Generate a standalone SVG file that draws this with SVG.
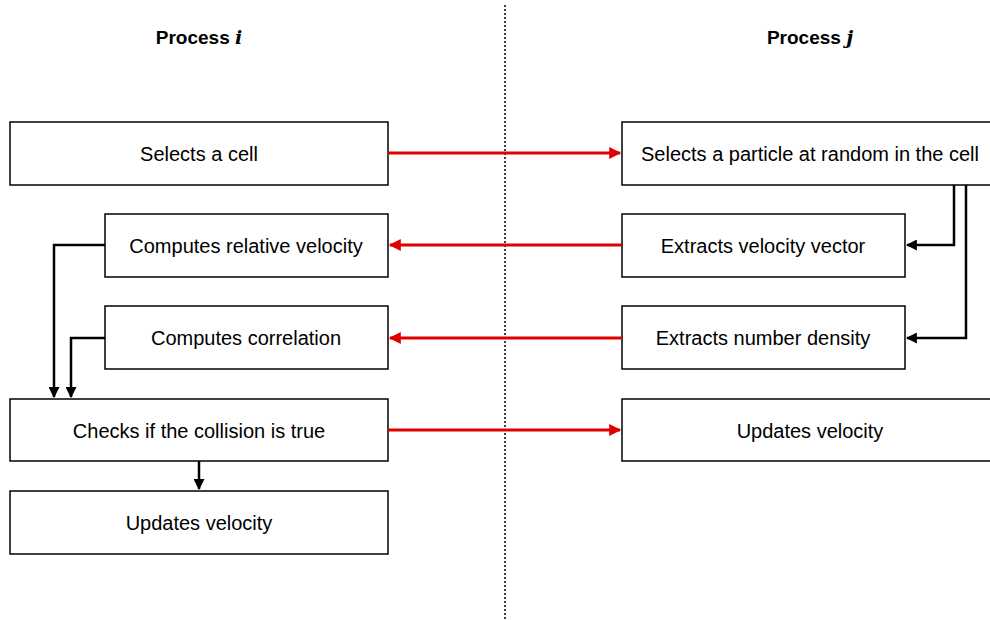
<svg xmlns="http://www.w3.org/2000/svg" width="990" height="620" viewBox="0 0 990 620">
<style>
.box{fill:#fff;stroke:#000;stroke-width:1.5}
.t{font-family:"Liberation Sans",Arial,sans-serif;font-size:20px;text-anchor:middle;dominant-baseline:central;fill:#000}
.h{font-family:"Liberation Sans",Arial,sans-serif;font-size:19px;font-weight:bold;text-anchor:middle;fill:#000}
.red{stroke:#e00000;stroke-width:3;fill:none}
.blk{stroke:#000;stroke-width:2.5;fill:none}
</style>
<defs>
<marker id="ar" viewBox="0 0 10 10" refX="9" refY="5" markerWidth="4.5" markerHeight="4" orient="auto" markerUnits="strokeWidth"><path d="M0,0 L10,5 L0,10 z" fill="#e00000"/></marker>
<marker id="ab" viewBox="0 0 10 10" refX="9" refY="5" markerWidth="4.4" markerHeight="4.4" orient="auto" markerUnits="strokeWidth"><path d="M0,0 L10,5 L0,10 z" fill="#000"/></marker>
</defs>
<line x1="505" y1="5" x2="505" y2="620" stroke="#000" stroke-width="1.5" stroke-dasharray="2,2"/>
<text class="h" x="199" y="44">Process <tspan font-family="'DejaVu Serif',serif" font-style="italic">i</tspan></text>
<text class="h" x="810" y="44">Process <tspan font-family="'DejaVu Serif',serif" font-style="italic">j</tspan></text>
<g id="n1"><rect class="box" x="10" y="122" width="378" height="63"/><text class="t" x="199" y="154">Selects a cell</text></g>
<g id="n2"><rect class="box" x="105" y="214" width="283" height="63"/><text class="t" x="246" y="246">Computes relative velocity</text></g>
<g id="n3"><rect class="box" x="105" y="306" width="283" height="63"/><text class="t" x="246" y="338">Computes correlation</text></g>
<g id="n4"><rect class="box" x="10" y="399" width="378" height="62"/><text class="t" x="199" y="431">Checks if the collision is true</text></g>
<g id="n5"><rect class="box" x="10" y="491" width="378" height="63"/><text class="t" x="199" y="523">Updates velocity</text></g>
<g id="n6"><rect class="box" x="622" y="122" width="380" height="63"/><text class="t" x="810" y="154">Selects a particle at random in the cell</text></g>
<g id="n7"><rect class="box" x="622" y="214" width="283" height="63"/><text class="t" x="763" y="246">Extracts velocity vector</text></g>
<g id="n8"><rect class="box" x="622" y="306" width="283" height="63"/><text class="t" x="763" y="338">Extracts number density</text></g>
<g id="n9"><rect class="box" x="622" y="399" width="380" height="62"/><text class="t" x="810" y="431">Updates velocity</text></g>
<g id="connectors">
<line class="red" x1="388" y1="153" x2="620" y2="153" marker-end="url(#ar)"/>
<line class="red" x1="622" y1="245" x2="390" y2="245" marker-end="url(#ar)"/>
<line class="red" x1="622" y1="338" x2="390" y2="338" marker-end="url(#ar)"/>
<line class="red" x1="388" y1="430" x2="620" y2="430" marker-end="url(#ar)"/>
<polyline class="blk" points="954,185 954,245 907,245" marker-end="url(#ab)"/>
<polyline class="blk" points="966,185 966,338 907,338" marker-end="url(#ab)"/>
<polyline class="blk" points="105,245 54,245 54,397" marker-end="url(#ab)"/>
<polyline class="blk" points="105,338 71,338 71,397" marker-end="url(#ab)"/>
<line class="blk" x1="199" y1="461" x2="199" y2="489" marker-end="url(#ab)"/>
</g>
</svg>
